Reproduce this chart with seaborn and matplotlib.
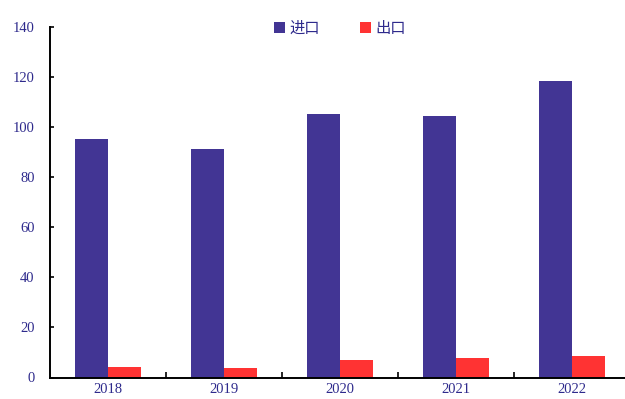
import matplotlib
matplotlib.use("Agg")
import matplotlib.pyplot as plt
from matplotlib.patches import Patch
from matplotlib.ticker import FixedLocator
import seaborn as sns
import pandas as pd

# Annual trade volumes
years = ["2018", "2019", "2020", "2021", "2022"]
imports = [95.4, 91.1, 105.2, 104.4, 118.3]
exports = [4.3, 3.6, 6.9, 7.8, 8.6]
series_names = ["进口", "出口"]
colors = ["#423594", "#FF3333"]
text_color = "#2E2A8C"

df = pd.DataFrame({
    "year": years * 2,
    "value": imports + exports,
    "series": [series_names[0]] * len(years) + [series_names[1]] * len(years),
})

sns.set_style("white")
plt.rcParams["font.family"] = ["Liberation Serif", "Noto Sans CJK SC", "DejaVu Sans"]

fig = plt.figure(figsize=(6.25, 3.99), dpi=100)
ax = fig.add_axes([50 / 625, 21.5 / 399, 580 / 625, 350.5 / 399])

sns.barplot(data=df, x="year", y="value", hue="series", palette=colors,
            width=0.57, saturation=1, ax=ax, legend=False, linewidth=0)

ax.set_xlim(-0.5, len(years) - 0.5)
ax.set_ylim(0, 140)
ax.set_yticks(range(0, 141, 20))
ax.set_xlabel("")
ax.set_ylabel("")

for s in ["top", "right"]:
    ax.spines[s].set_visible(False)
for s in ["left", "bottom"]:
    ax.spines[s].set_color("black")
    ax.spines[s].set_linewidth(1.4)

ax.tick_params(axis="y", direction="in", length=3, width=1.2, color="black",
               labelsize=10.5, labelcolor=text_color, pad=11, left=True)
ax.tick_params(axis="x", which="major", length=0, labelsize=10.5,
               labelcolor=text_color, pad=4)
ax.xaxis.set_minor_locator(FixedLocator([i + 0.5 for i in range(len(years) - 1)]))
ax.tick_params(axis="x", which="minor", direction="in", length=4, width=1.2,
               color="black", bottom=True)

handles = [Patch(facecolor=c, edgecolor="none") for c in colors]
leg = fig.legend(handles, series_names, loc="center", bbox_to_anchor=(0.544, 0.928),
                 ncol=2, frameon=False, handlelength=0.7, handleheight=0.7,
                 handletextpad=0.3, columnspacing=2.6, fontsize=11)
for t in leg.get_texts():
    t.set_color(text_color)

fig.savefig("out.png", dpi=100)
